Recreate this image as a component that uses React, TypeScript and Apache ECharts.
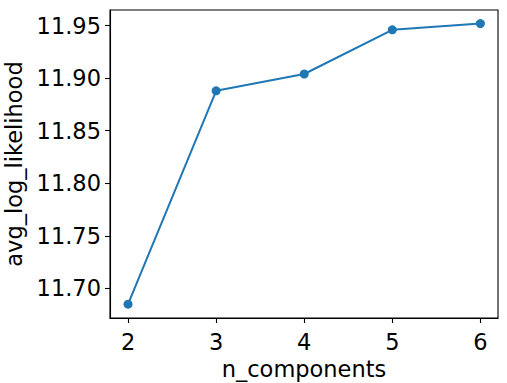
import React, { useEffect, useRef } from "react";
import * as echarts from "echarts";

const nComponents = [2, 3, 4, 5, 6];
const avgLogLikelihood = [11.685, 11.888, 11.904, 11.946, 11.952];
const xTicks = [2, 3, 4, 5, 6];
const yTicks = [11.7, 11.75, 11.8, 11.85, 11.9, 11.95];

const FONT = "DejaVu Sans";

export default function App() {
  const ref = useRef<HTMLDivElement>(null);
  useEffect(() => {
    document.body.style.margin = "0";
    const chart = echarts.init(ref.current!, null, { renderer: "svg" });
    chart.setOption({
      animation: false,
      backgroundColor: "#fff",
      grid: {
        left: 110,
        right: 9,
        top: 10,
        bottom: 65,
        containLabel: false,
        outerBoundsMode: "none",
        show: true,
        borderColor: "#000",
        borderWidth: 1.1,
        backgroundColor: "transparent",
      },
      xAxis: {
        type: "value",
        min: 1.795,
        max: 6.2,
        name: "n_components",
        nameLocation: "middle",
        nameGap: 32,
        nameTextStyle: { fontFamily: FONT, fontSize: 22.5, color: "#000" },
        axisLine: { show: true, lineStyle: { color: "#000", width: 1.1 } },
        axisTick: {
          show: true,
          inside: false,
          length: 5,
          lineStyle: { color: "#000", width: 1.1 },
          customValues: xTicks,
        },
        axisLabel: {
          fontFamily: FONT,
          fontSize: 22.5,
          color: "#000",
          margin: 12,
          customValues: xTicks,
          formatter: (v: number) => String(v),
        },
        splitLine: { show: false },
      },
      yAxis: {
        type: "value",
        min: 11.6718,
        max: 11.9649,
        name: "avg_log_likelihood",
        nameLocation: "middle",
        nameGap: 77,
        nameRotate: 90,
        nameTextStyle: { fontFamily: FONT, fontSize: 22.5, color: "#000" },
        axisLine: { show: true, lineStyle: { color: "#000", width: 1.1 } },
        axisTick: {
          show: true,
          inside: false,
          length: 5,
          lineStyle: { color: "#000", width: 1.1 },
          customValues: yTicks,
        },
        axisLabel: {
          fontFamily: FONT,
          fontSize: 22.5,
          color: "#000",
          margin: 9,
          customValues: yTicks,
          formatter: (v: number) => v.toFixed(2),
        },
        splitLine: { show: false },
      },
      series: [
        {
          type: "line",
          data: nComponents.map((x, i) => [x, avgLogLikelihood[i]]),
          lineStyle: { color: "#1f77b4", width: 2 },
          itemStyle: { color: "#1f77b4" },
          symbol: "circle",
          symbolSize: 9,
          showSymbol: true,
        },
      ],
    });
    return () => chart.dispose();
  }, []);
  return <div ref={ref} style={{ width: 507, height: 383 }} />;
}
